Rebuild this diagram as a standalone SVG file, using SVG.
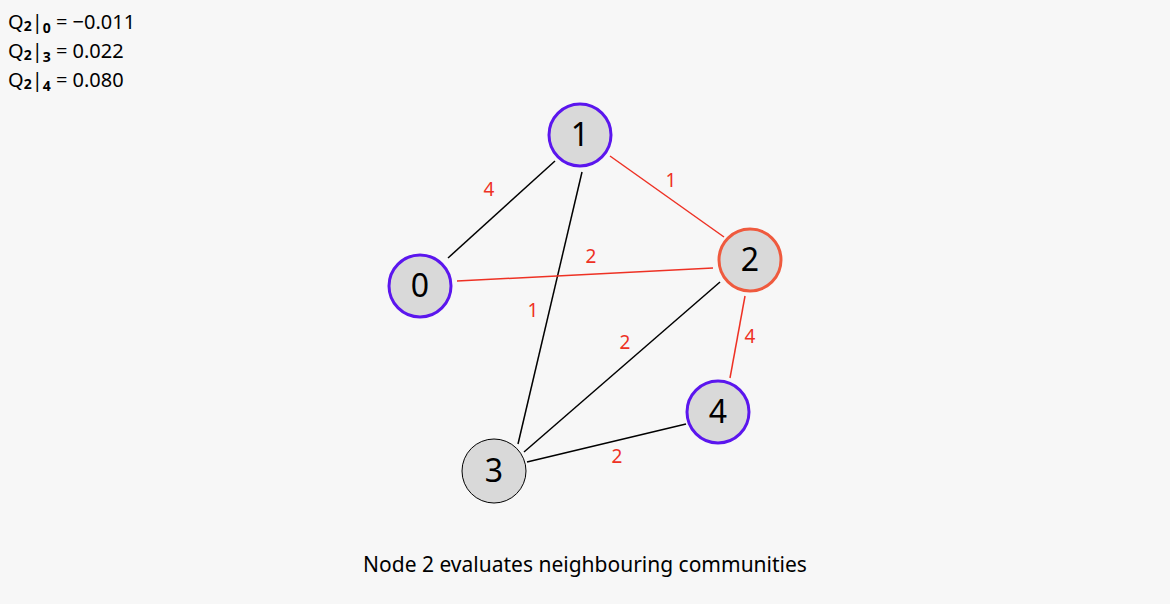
<svg xmlns="http://www.w3.org/2000/svg" width="1170" height="604" viewBox="0 0 1170 604">
  <style>
    text { font-family: "Noto Sans", "Open Sans", sans-serif; }
    .edge { stroke-width: 1.5; fill: none; }
    .black { stroke: #000000; }
    .red { stroke: #ee3124; }
    .wlabel { fill: #ee3124; font-size: 19px; text-anchor: middle; }
    .node circle { fill: #d9d9d9; }
    .comm { stroke: #5b16ee; stroke-width: 3; }
    .focus { stroke: #ef5a3e; stroke-width: 3; }
    .plain { stroke: #000000; stroke-width: 1; }
    .nlabel { font-size: 32px; text-anchor: middle; fill: #000000; }
    .gain { font-size: 20px; fill: #000000; }
    .sub { font-size: 14px; font-weight: bold; }
  </style>
  <rect width="1170" height="604" fill="#f7f7f7"/>

  <!-- modularity gains -->
  <g id="gains">
    <text class="gain" x="8" y="29">Q<tspan class="sub" dy="2">2</tspan><tspan dy="-2">|</tspan><tspan class="sub" dy="4">0</tspan><tspan dy="-4"> = −0.011</tspan></text>
    <text class="gain" x="8" y="58">Q<tspan class="sub" dy="2">2</tspan><tspan dy="-2">|</tspan><tspan class="sub" dy="4">3</tspan><tspan dy="-4"> = 0.022</tspan></text>
    <text class="gain" x="8" y="87">Q<tspan class="sub" dy="2">2</tspan><tspan dy="-2">|</tspan><tspan class="sub" dy="4">4</tspan><tspan dy="-4"> = 0.080</tspan></text>
  </g>

  <!-- weighted edges -->
  <g id="edges">
    <line class="edge black" x1="448" y1="258" x2="555" y2="161"/>
    <line class="edge black" x1="582" y1="172" x2="518" y2="444"/>
    <line class="edge red" x1="610" y1="156" x2="724" y2="237"/>
    <line class="edge red" x1="457" y1="281" x2="713" y2="268"/>
    <line class="edge black" x1="720" y1="282" x2="524" y2="452"/>
    <line class="edge red" x1="745" y1="296" x2="730" y2="378"/>
    <line class="edge black" x1="527" y1="462" x2="686" y2="424"/>
    <text class="wlabel" x="489" y="196">4</text>
    <text class="wlabel" x="671" y="187">1</text>
    <text class="wlabel" x="591" y="263">2</text>
    <text class="wlabel" x="533" y="317">1</text>
    <text class="wlabel" x="625" y="349">2</text>
    <text class="wlabel" x="750" y="343">4</text>
    <text class="wlabel" x="617" y="463">2</text>
  </g>

  <g id="node0" class="node">
    <circle class="comm" cx="420" cy="286" r="31"/>
    <text class="nlabel" x="420" y="297">0</text>
  </g>
  <g id="node1" class="node">
    <circle class="comm" cx="580" cy="135" r="31"/>
    <text class="nlabel" x="580" y="146">1</text>
  </g>
  <g id="node2" class="node">
    <circle class="focus" cx="750" cy="260" r="31"/>
    <text class="nlabel" x="750" y="271">2</text>
  </g>
  <g id="node3" class="node">
    <circle class="plain" cx="494" cy="471" r="32"/>
    <text class="nlabel" x="494" y="482">3</text>
  </g>
  <g id="node4" class="node">
    <circle class="comm" cx="718" cy="412" r="31"/>
    <text class="nlabel" x="718" y="423">4</text>
  </g>

  <text x="585" y="572" font-size="21" text-anchor="middle" fill="#000000">Node 2 evaluates neighbouring communities</text>
</svg>
